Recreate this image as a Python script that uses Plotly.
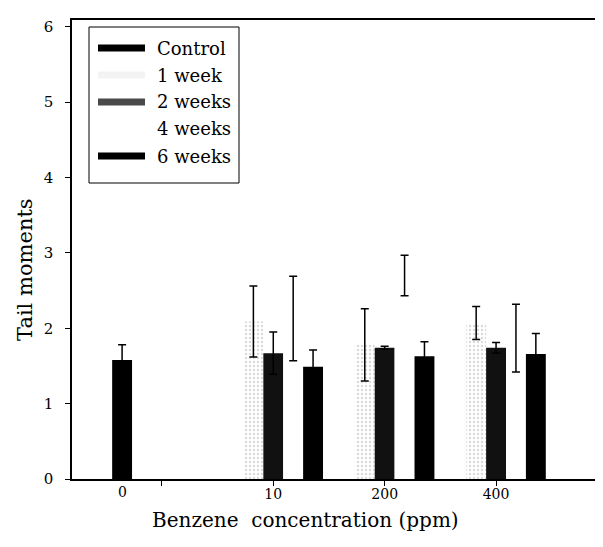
import plotly.graph_objects as go

# ---- data ----
categories = ["0", "10", "200", "400"]
series_names = ["Control", "1 week", "2 weeks", "4 weeks", "6 weeks"]
control_vals = [1.58, None, None, None]
control_err = [0.20, None, None, None]
week1_vals = [None, 2.09, 1.78, 2.07]
week1_err = [None, 0.47, 0.48, 0.22]
week2_vals = [None, 1.67, 1.74, 1.74]
week2_err = [None, 0.28, 0.02, 0.07]
week4_vals = [None, 2.13, 2.70, 1.87]
week4_err = [None, 0.56, 0.27, 0.45]
week6_vals = [None, 1.49, 1.63, 1.66]
week6_err = [None, 0.22, 0.19, 0.27]
y_ticks = [0, 1, 2, 3, 4, 5, 6]
x_ticktext = ["", "10", "200", "400"]

values = [control_vals, week1_vals, week2_vals, week4_vals, week6_vals]
errors = [control_err, week1_err, week2_err, week4_err, week6_err]

# ---- styles ----
FONT = "DejaVu Serif"
bar_colors = ["#000000", "#ffffff", "#111111", "#ffffff", "#000000"]
legend_colors = ["#000000", "#f3f3f3", "#4a4a4a", "#ffffff", "#000000"]

OFF = 8  # default page body margin
W, H = 595, 539
ML, MR, MT, MB = 64, 0, 12, 68
PW, PH = W - ML - MR, H - MT - MB


def px(xp):
    return (xp - OFF - ML) / PW


def py(yp):
    return (OFF + H - MB - yp) / PH


fig = go.Figure()
for i, name in enumerate(series_names):
    marker = dict(color=bar_colors[i], line=dict(width=0))
    if name == "1 week":
        marker["pattern"] = dict(shape=".", fgcolor="#b4b4b4", bgcolor="#ffffff",
                                 size=4, solidity=0.3)
    fig.add_trace(go.Bar(
        name=name, x=categories, y=values[i],
        error_y=dict(type="data", array=errors[i], symmetric=True,
                     color="#000000", thickness=1.5, width=4),
        marker=marker, showlegend=False,
    ))

# ---- manual legend ----
fig.add_shape(type="rect", xref="paper", yref="paper",
              x0=px(89), x1=px(239), y0=py(183), y1=py(27),
              line=dict(color="#000000", width=1), fillcolor="#ffffff", layer="above")
item_y = [48, 75, 102, 129, 156]
for i, name in enumerate(series_names):
    fig.add_shape(type="line", xref="paper", yref="paper",
                  x0=px(98), x1=px(145), y0=py(item_y[i]), y1=py(item_y[i]),
                  line=dict(color=legend_colors[i], width=7), layer="above")
    fig.add_annotation(text=name, xref="paper", yref="paper",
                       x=px(155), y=py(item_y[i]), xanchor="left", yanchor="middle",
                       showarrow=False, font=dict(family=FONT, size=18, color="#000000"))

# label for the 0 group under the control bar
fig.add_annotation(text="0", xref="x", yref="paper", x=-0.357, y=py(492),
                   xanchor="center", yanchor="middle", showarrow=False,
                   font=dict(family=FONT, size=14, color="#000000"))
# axis titles
fig.add_annotation(text="Benzene  concentration (ppm)", xref="paper", yref="paper",
                   x=px(305), y=py(520), xanchor="center", yanchor="middle",
                   showarrow=False, font=dict(family=FONT, size=20, color="#000000"))
fig.add_annotation(text="Tail moments", xref="paper", yref="paper",
                   x=px(25), y=py(270), xanchor="center", yanchor="middle",
                   textangle=-90, showarrow=False,
                   font=dict(family=FONT, size=21, color="#000000"))

fig.update_layout(
    width=W, height=H,
    margin=dict(l=ML, r=MR, t=MT, b=MB),
    paper_bgcolor="#ffffff", plot_bgcolor="#ffffff",
    barmode="group", bargap=0.107, bargroupgap=0,
    font=dict(family=FONT, size=14, color="#000000"),
)
fig.update_xaxes(
    type="category", range=[-0.807, 3.96],
    tickmode="array", tickvals=categories, ticktext=x_ticktext,
    ticks="outside", ticklen=5, tickwidth=1, tickcolor="#000000",
    showline=True, linecolor="#000000", linewidth=1.5, mirror=True,
    showgrid=False, zeroline=False, ticklabelstandoff=-4,
    tickfont=dict(family=FONT, size=14),
)
fig.update_yaxes(
    range=[0, 6.09], tickmode="array", tickvals=y_ticks,
    ticks="outside", ticklen=5, tickwidth=1, tickcolor="#000000",
    showline=True, linecolor="#000000", linewidth=1.5,
    showgrid=False, zeroline=False, ticklabelstandoff=9,
    tickfont=dict(family=FONT, size=15),
)

fig.write_html("out.html")
